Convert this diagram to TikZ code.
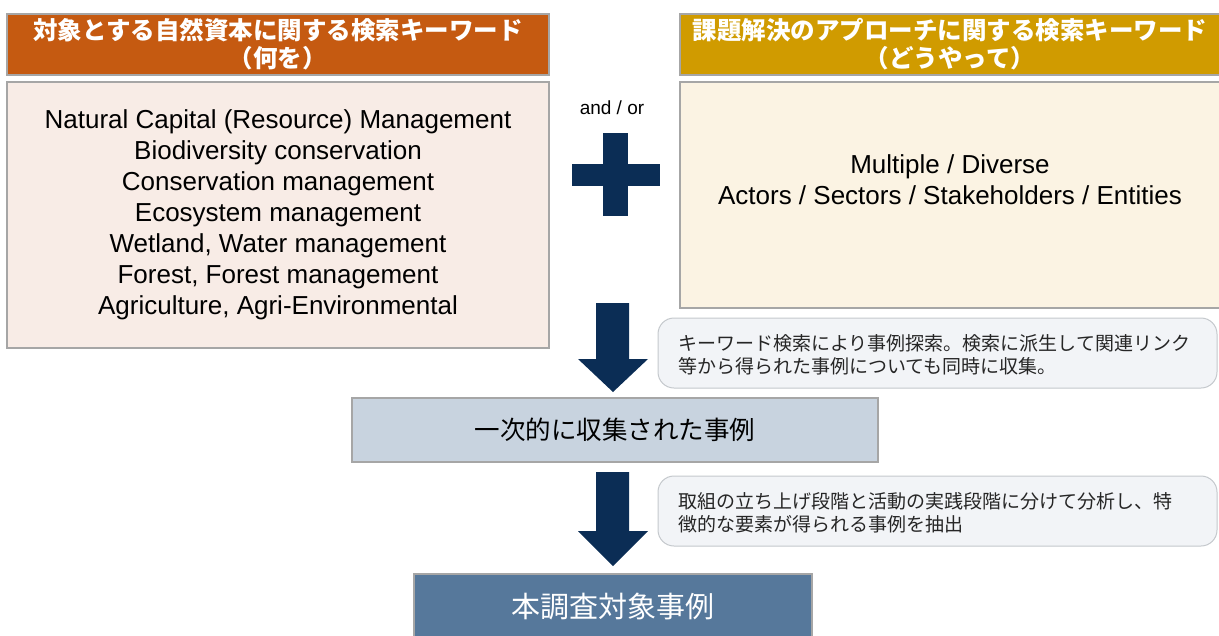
\documentclass[tikz,border=0pt]{standalone}
\usepackage{fontspec}
\setmainfont{Liberation Sans}
\newfontfamily\jp{Noto Sans CJK JP}
\definecolor{hdrA}{HTML}{C55A11}
\definecolor{hdrB}{HTML}{D09B00}
\definecolor{boxA}{HTML}{F8ECE6}
\definecolor{boxB}{HTML}{FBF3E3}
\definecolor{navy}{HTML}{0B2D55}
\definecolor{midc}{HTML}{C8D3DF}
\definecolor{botc}{HTML}{56789B}
\definecolor{callc}{HTML}{F2F4F7}
\definecolor{bord}{HTML}{A6A6A6}
\definecolor{callb}{HTML}{C4C8CC}
\tikzset{
  hdr/.style={draw=bord, line width=2pt, inner sep=0pt},
  hdrtxt/.style={inner sep=0pt, text=white, align=center,
    font=\jp\bfseries\fontsize{24.5}{28}\selectfont},
  kbox/.style={draw=bord, line width=2pt, inner sep=0pt},
  entxt/.style={align=center, inner sep=0pt, text=black, font=\fontsize{26}{31}\selectfont},
  callout/.style={draw=callb, line width=1pt, fill=callc, rounded corners=16pt, inner sep=0pt,
    minimum width=559pt, minimum height=70pt},
  calltxt/.style={align=left, inner sep=0pt, anchor=west, text=black!85,
    font=\jp\fontsize{19}{23}\selectfont},
  blockarrow/.style={fill=navy},
}
\begin{document}
\begin{tikzpicture}[x=1pt,y=-1pt]
\useasboundingbox (0,0) rectangle (1219,635);
\clip (0,0) rectangle (1219,635);
% headers
\node[hdr, fill=hdrA, minimum width=542pt, minimum height=61pt] (h1) at (278,44.5) {};
\node[hdrtxt] (h1t) at (278,44.5) {対象とする自然資本に関する検索キーワード\\（何を）};
\node[hdr, fill=hdrB, minimum width=542pt, minimum height=61pt] (h2) at (951,44.5) {};
\node[hdrtxt] (h2t) at (950,44.5) {課題解決のアプローチに関する検索キーワード\\（どうやって）};
% keyword boxes
\node[kbox, fill=boxA, minimum width=542pt, minimum height=266pt] (b1) at (278,215) {};
\node[entxt] (b1t) at (b1.center) {Natural Capital (Resource) Management\\Biodiversity conservation\\Conservation management\\Ecosystem management\\Wetland, Water management\\Forest, Forest management\\Agriculture, Agri-Environmental};
\node[kbox, fill=boxB, minimum width=542pt, minimum height=226pt] (b2) at (951,195) {};
\node[entxt] (b2t) at (950,180) {Multiple / Diverse\\Actors / Sectors / Stakeholders / Entities};
% and / or + plus
\node[inner sep=0pt, font=\fontsize{19}{22}\selectfont] (andor) at (612,108) {and / or};
\fill[navy] (603,133) rectangle (628,216);
\fill[navy] (572,164) rectangle (660,186);
% arrow 1
\fill[blockarrow] (596,303) -- (629,303) -- (629,359) -- (648,359) -- (613,392) -- (578,359) -- (596,359) -- cycle;
% callout 1
\node[callout] (c1) at (937.5,353) {};
\node[calltxt] (c1t) at (678,354.5) {キーワード検索により事例探索。検索に派生して関連リンク\\等から得られた事例についても同時に収集。};
% middle box
\node[kbox, fill=midc, minimum width=526pt, minimum height=64pt, font=\jp\fontsize{25.5}{30}\selectfont, text=black] (m) at (615,430) {一次的に収集された事例};
% arrow 2
\fill[blockarrow] (596,472) -- (629,472) -- (629,531) -- (648,531) -- (613,566) -- (578,531) -- (596,531) -- cycle;
% callout 2
\node[callout] (c2) at (937.5,511) {};
\node[calltxt] (c2t) at (678,512.5) {取組の立ち上げ段階と活動の実践段階に分けて分析し、特\\徴的な要素が得られる事例を抽出};
% bottom box
\node[kbox, fill=botc, minimum width=398pt, minimum height=71pt] (f) at (613,609.5) {};
\node[inner sep=0pt, text=white, font=\jp\fontsize{29}{32}\selectfont] (ft) at (613,607) {本調査対象事例};
\end{tikzpicture}
\end{document}
